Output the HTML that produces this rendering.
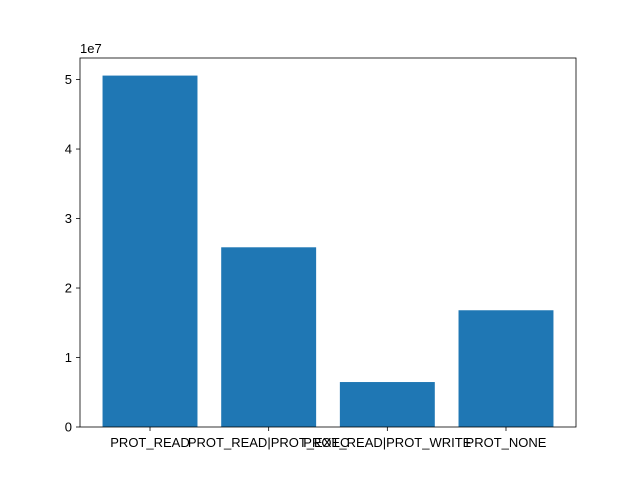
<!DOCTYPE html>
<html><head><meta charset="utf-8"><style>
body{margin:0;background:#fff;}
svg{display:block;font-family:"Liberation Sans","DejaVu Sans",sans-serif;}
</style></head><body>
<svg id="c" width="640" height="480"></svg>
<script>
const categories=["PROT_READ","PROT_READ|PROT_EXEC","PROT_READ|PROT_WRITE","PROT_NONE"];
const values=[5.057e7,2.586e7,0.647e7,1.68e7];
const yTicks=[0,1,2,3,4,5];
const L=80,R=576,T=58,B=427;
const xmin=-0.59,xmax=3.59,ymax=5.31e7;
const sx=v=>L+(v-xmin)/(xmax-xmin)*(R-L);
const sy=v=>B-v/ymax*(B-T);
const svg=document.getElementById('c');
const NS="http://www.w3.org/2000/svg";
function mk(t,a,txt){const e=document.createElementNS(NS,t);for(const k in a)e.setAttribute(k,a[k]);if(txt!==undefined)e.textContent=txt;svg.appendChild(e);return e;}
values.forEach((v,i)=>{
 const r=mk('rect',{x:sx(i-0.4),y:sy(v),width:sx(i+0.4)-sx(i-0.4),height:sy(0)-sy(v),fill:'#1f77b4'});
 
 
 const t=mk('text',{x:sx(i),y:B+20,'text-anchor':'middle','font-size':'13',fill:'#000'},categories[i]);
 
 
 mk('line',{x1:sx(i),x2:sx(i),y1:B,y2:B+4,stroke:'#000','stroke-width':0.8});
});
yTicks.forEach(v=>{
 const y=sy(v*1e7);
 mk('line',{x1:L-4,x2:L,y1:y,y2:y,stroke:'#000','stroke-width':0.8});
 const t=mk('text',{x:L-8,y:y+4.5,'text-anchor':'end','font-size':'13',fill:'#000'},String(v));
 
 
});
const f=mk('rect',{x:L,y:T,width:R-L,height:B-T,fill:'none',stroke:'#000','stroke-width':0.8});


const o=mk('text',{x:L,y:T-5,'font-size':'13',fill:'#000'},'1e7');


</script>
</body></html>
